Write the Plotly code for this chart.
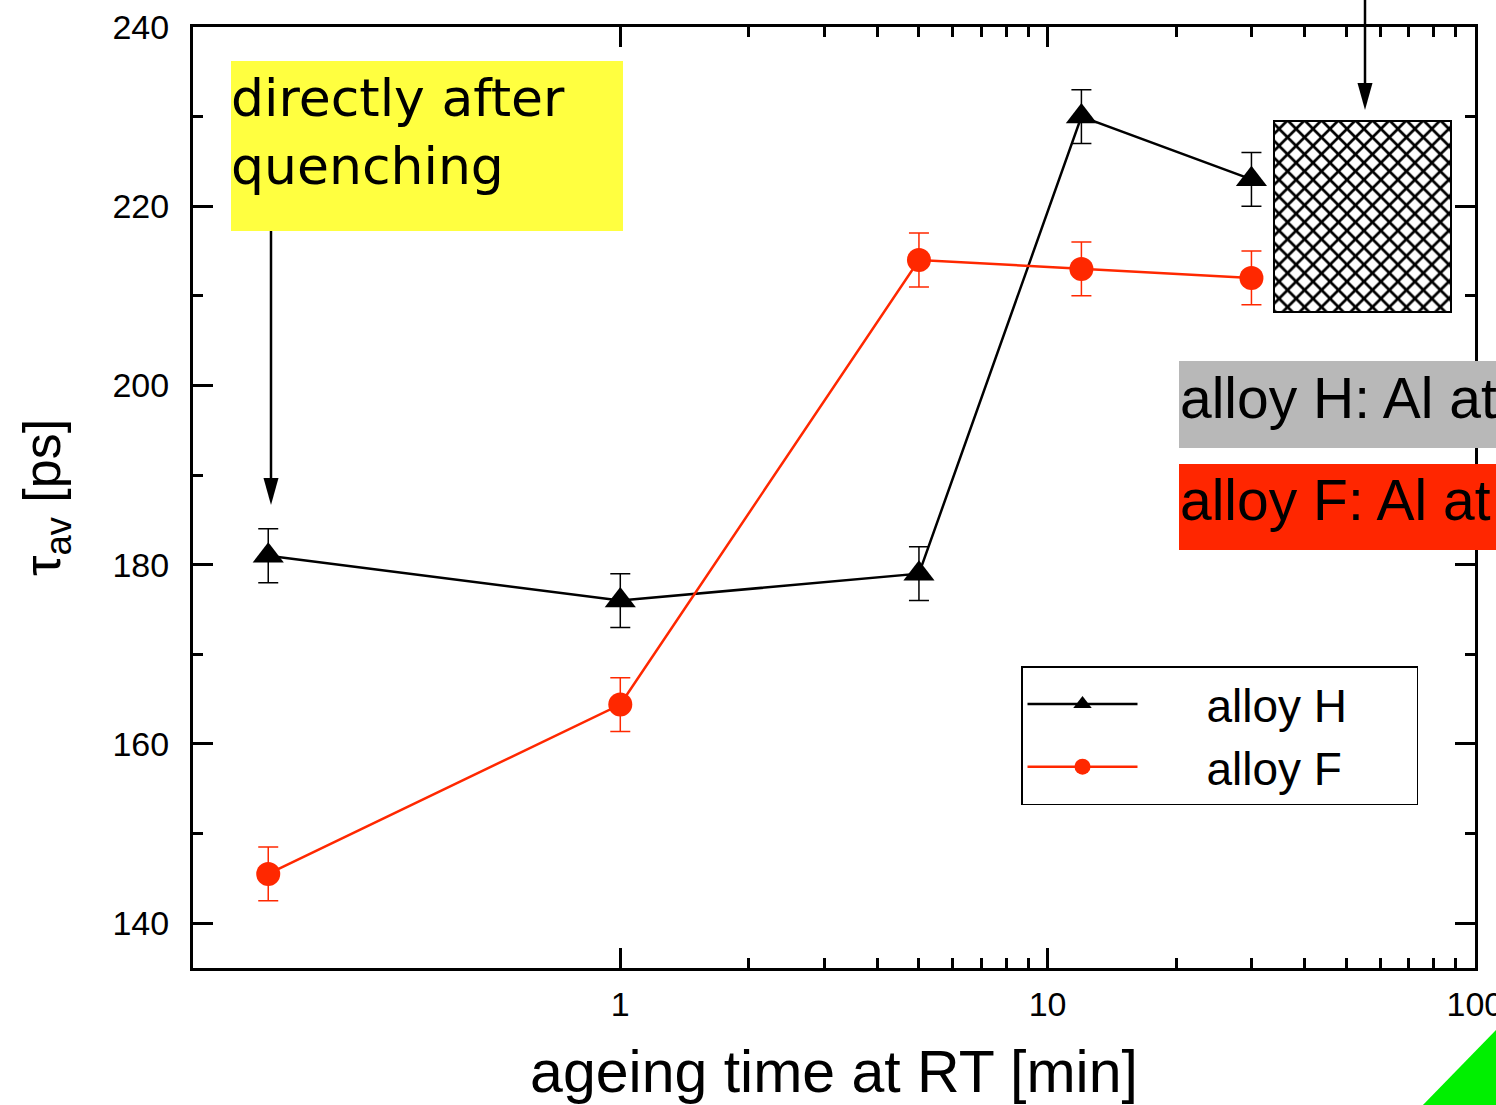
import plotly.graph_objects as go

# ageing time at room temperature [min] and average positron lifetime [ps]
ageing_time = [0.15, 1, 5, 12, 30]
tau_alloy_h = [181, 176, 179, 230, 223]
tau_alloy_f = [145.5, 164.4, 214, 213, 212]
err_alloy_h = [3, 3, 3, 3, 3]
err_alloy_f = [3, 3, 3, 3, 3]

x_tick_vals = [1, 10, 100]
x_tick_text = ["1", "10", "100"]
x_minor_vals = [2, 3, 4, 5, 6, 7, 8, 9, 20, 30, 40, 50, 60, 70, 80, 90]
y_tick_vals = [140, 160, 180, 200, 220, 240]
y_minor_vals = [150, 170, 190, 210, 230]

BLACK = "#000000"
RED = "#FF2800"
NBSP = "\u00a0"

W, H = 1496, 1105
ML, MR, MT, MB = 193, 21, 27, 137
PW, PH = W - ML - MR, H - MT - MB


def px(xp):
    return (xp - ML) / PW


def py(yp):
    return (H - MB - yp) / PH


fig = go.Figure()

fig.add_trace(go.Scatter(
    x=ageing_time, y=tau_alloy_h, name=NBSP * 5 + "alloy H" + NBSP * 5,
    mode="lines+markers",
    line=dict(color=BLACK, width=2.5),
    marker=dict(symbol="triangle-up", size=27, color=BLACK),
    error_y=dict(type="data", array=err_alloy_h, color=BLACK, thickness=1.5, width=10),
))
fig.add_trace(go.Scatter(
    x=ageing_time, y=tau_alloy_f, name=NBSP * 5 + "alloy F" + NBSP * 5,
    mode="lines+markers",
    line=dict(color=RED, width=2.5),
    marker=dict(symbol="circle", size=24, color=RED),
    error_y=dict(type="data", array=err_alloy_f, color=RED, thickness=1.5, width=10),
))

# cross-hatched block on an overlay axis pair spanning the plot area
hx0, hx1, hy0, hy1 = px(1274), px(1451), py(312), py(121)
fig.add_trace(go.Bar(
    x=[(hx0 + hx1) / 2], y=[hy1 - hy0], base=[hy0], width=[hx1 - hx0],
    xaxis="x2", yaxis="y2", showlegend=False, hoverinfo="skip",
    marker=dict(color="white", line=dict(color=BLACK, width=2),
                pattern=dict(shape="x", size=12, solidity=0.4,
                             fgcolor=BLACK, bgcolor="white", fillmode="replace")),
))

axis_common = dict(
    showline=True, linewidth=3, linecolor=BLACK, mirror="allticks",
    ticks="inside", tickwidth=2.5, tickcolor=BLACK, ticklen=20,
    showgrid=False, zeroline=False, ticklabeloverflow="allow",
    automargin=False,
    tickfont=dict(family="Liberation Sans", size=34, color=BLACK),
)

fig.update_layout(
    width=W, height=H,
    margin=dict(l=ML, r=MR, t=MT, b=MB, pad=0, autoexpand=False),
    paper_bgcolor="white", plot_bgcolor="white",
    font=dict(family="Liberation Sans", color=BLACK),
    xaxis=dict(
        type="log", range=[-1, 2.0003], tickmode="array",
        tickvals=x_tick_vals, ticktext=x_tick_text,
        minor=dict(ticks="inside", ticklen=10, tickwidth=2.5, tickcolor=BLACK,
                   tickmode="array", tickvals=x_minor_vals, showgrid=False),
        ticklabelstandoff=4,
        title=dict(text="ageing time at RT [min]",
                   font=dict(family="Liberation Sans", size=59, color=BLACK),
                   standoff=30),
        **axis_common,
    ),
    yaxis=dict(
        range=[135, 240], tickmode="array", tickvals=y_tick_vals,
        minor=dict(ticks="inside", ticklen=10, tickwidth=2.5, tickcolor=BLACK,
                   tickmode="array", tickvals=y_minor_vals, showgrid=False),
        ticklabelstandoff=14,
        title=dict(text="τ<sub>av</sub> [ps]",
                   font=dict(family="Liberation Sans", size=52, color=BLACK),
                   standoff=36),
        **axis_common,
    ),
    xaxis2=dict(overlaying="x", range=[0, 1], visible=False, fixedrange=True),
    yaxis2=dict(overlaying="y", range=[0, 1], visible=False, fixedrange=True),
    legend=dict(
        x=px(1021), y=py(666), xanchor="left", yanchor="top",
        bgcolor="white", bordercolor=BLACK, borderwidth=1.5,
        font=dict(family="Liberation Sans", size=46, color=BLACK),
        itemwidth=110, tracegroupgap=0, traceorder="normal",
    ),
    showlegend=True,
)


def arrow_shapes(xp, y_tail, y_head, head_len=27, head_half=7.5):
    """Vertical arrow pointing down, built from a line and a filled head."""
    return [
        dict(type="line", xref="paper", yref="paper",
             x0=px(xp), x1=px(xp), y0=py(y_tail), y1=py(y_head - head_len + 2),
             line=dict(color=BLACK, width=2.5), layer="above"),
        dict(type="path", xref="paper", yref="paper",
             path=(f"M {px(xp - head_half)} {py(y_head - head_len)} "
                   f"L {px(xp + head_half)} {py(y_head - head_len)} "
                   f"L {px(xp)} {py(y_head)} Z"),
             fillcolor=BLACK, line=dict(width=0), layer="above"),
    ]


shapes = [
    # label boxes
    dict(type="rect", xref="paper", yref="paper",
         x0=px(231), x1=px(623), y0=py(231), y1=py(61),
         fillcolor="#FFFF40", line=dict(width=0), layer="above"),
    dict(type="rect", xref="paper", yref="paper",
         x0=px(1179), x1=px(1510), y0=py(448), y1=py(361),
         fillcolor="#B8B8B8", line=dict(width=0), layer="above"),
    dict(type="rect", xref="paper", yref="paper",
         x0=px(1179), x1=px(1510), y0=py(550), y1=py(464),
         fillcolor="#FF2600", line=dict(width=0), layer="above"),
    # green corner triangle
    dict(type="path", xref="paper", yref="paper",
         path=f"M {px(1420)} {py(1108)} L {px(1500)} {py(1026)} L {px(1500)} {py(1108)} Z",
         fillcolor="#00F000", line=dict(width=0), layer="above"),
]
shapes += arrow_shapes(271, 231, 505)
shapes += arrow_shapes(1365, -5, 110)
fig.update_layout(shapes=shapes)

annotations = [
    dict(text="directly after<br>quenching", xref="paper", yref="paper",
         x=px(229), y=py(66), xanchor="left", yanchor="top", align="left",
         showarrow=False, font=dict(family="DejaVu Sans", size=52, color=BLACK)),
    dict(text="alloy H: Al at", xref="paper", yref="paper",
         x=px(1178), y=py(398), xanchor="left", yanchor="middle", align="left",
         showarrow=False, font=dict(family="Liberation Sans", size=57, color=BLACK)),
    dict(text="alloy F: Al at", xref="paper", yref="paper",
         x=px(1178), y=py(500), xanchor="left", yanchor="middle", align="left",
         showarrow=False, font=dict(family="Liberation Sans", size=57, color=BLACK)),
]
fig.update_layout(annotations=annotations)

fig.write_html("out.html")
